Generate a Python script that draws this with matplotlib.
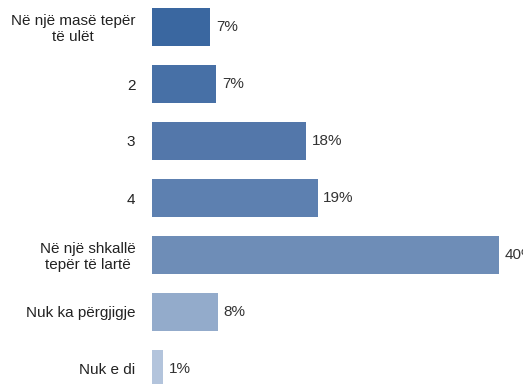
import matplotlib
matplotlib.use("Agg")
import matplotlib.pyplot as plt

categories = ["Në një masë tepër\ntë ulët", "2", "3", "4",
              "Në një shkallë\ntepër të lartë", "Nuk ka përgjigje", "Nuk e di"]
values = [6.7, 7.4, 17.8, 19.1, 40.0, 7.6, 1.3]
labels = ["7%", "7%", "18%", "19%", "40%", "8%", "1%"]
colors = ["#3A67A0", "#4770A6", "#5377AA", "#5D80B0", "#6E8DB7", "#93ABCB", "#B3C4DC"]

plt.rcParams['font.family'] = ['Liberation Sans', 'DejaVu Sans']

W, H = 523, 384
fig = plt.figure(figsize=(W / 100, H / 100), dpi=100)
ax = fig.add_axes([152 / W, 0, (W - 152) / W, 1])

ypos = list(range(len(values)))
ax.barh(ypos, values, height=0.667, color=colors, edgecolor='none')

ax.set_xlim(0, 371 / 8.675)
ax.set_ylim((H - 27) / 57, -27 / 57)

for y, v, t in zip(ypos, values, labels):
    ax.text(v + 0.65, y, t, va='center', ha='left', fontsize=11, color='#333333', clip_on=False)

ax.set_yticks(ypos)
ax.set_yticklabels(categories, fontsize=11, color='#222222', multialignment='center',
                   linespacing=1.15)
ax.tick_params(axis='y', length=0, pad=12)
ax.set_xticks([])
for s in ax.spines.values():
    s.set_visible(False)

fig.savefig("out.png", dpi=100)
